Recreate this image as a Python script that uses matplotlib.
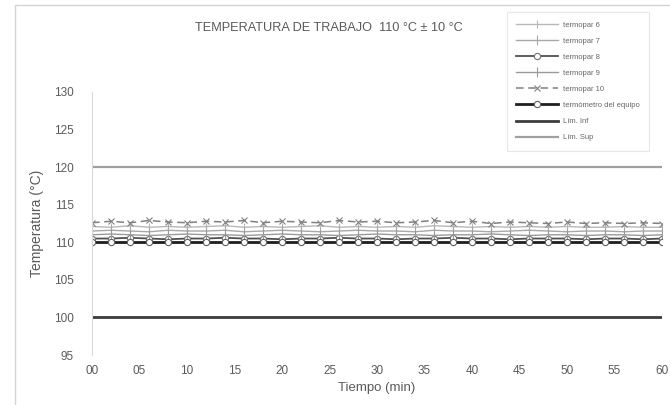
import matplotlib
matplotlib.use("Agg")
import matplotlib.pyplot as plt
from matplotlib.patches import Rectangle

plt.rcParams['font.family'] = ['Liberation Sans', 'DejaVu Sans']

# Tiempo de muestreo (min)
tiempo = list(range(0, 61, 2))

termopar_6 = [112.1, 112.0, 112.2, 112.0, 112.1, 112.0, 112.1, 112.2, 112.0, 112.1,
              112.0, 112.1, 112.2, 112.0, 112.1, 112.0, 112.1, 112.0, 112.2, 112.1,
              112.0, 112.1, 112.0, 112.1, 112.0, 112.1, 112.0, 112.0, 112.1, 112.0, 112.0]
termopar_7 = [111.5, 111.6, 111.5, 111.4, 111.6, 111.5, 111.5, 111.6, 111.4, 111.5,
              111.6, 111.5, 111.4, 111.5, 111.6, 111.5, 111.5, 111.4, 111.6, 111.5,
              111.5, 111.4, 111.5, 111.6, 111.5, 111.4, 111.5, 111.5, 111.4, 111.5, 111.5]
termopar_8 = [110.5, 110.5, 110.6, 110.5, 110.4, 110.5, 110.5, 110.6, 110.5, 110.5,
              110.4, 110.5, 110.5, 110.6, 110.5, 110.5, 110.4, 110.5, 110.5, 110.6,
              110.5, 110.5, 110.4, 110.5, 110.5, 110.5, 110.4, 110.5, 110.5, 110.4, 110.5]
termopar_9 = [111.0, 111.1, 111.0, 110.9, 111.0, 111.1, 111.0, 111.0, 110.9, 111.0,
              111.1, 111.0, 111.0, 110.9, 111.0, 111.1, 111.0, 111.0, 110.9, 111.0,
              111.0, 111.1, 111.0, 110.9, 111.0, 111.0, 110.9, 111.0, 111.0, 110.9, 111.0]
termopar_10 = [112.6, 112.8, 112.6, 112.9, 112.7, 112.6, 112.8, 112.7, 112.9, 112.6,
               112.8, 112.7, 112.6, 112.9, 112.7, 112.8, 112.6, 112.7, 112.9, 112.6,
               112.8, 112.5, 112.7, 112.6, 112.5, 112.7, 112.5, 112.6, 112.5, 112.6, 112.5]
termometro_equipo = [110.0] * 31
lim_inf = [100.0] * 31
lim_sup = [120.0] * 31

x_ticks = list(range(0, 61, 5))
x_tick_labels = [f"{v:02d}" for v in x_ticks]
y_ticks = list(range(95, 131, 5))
y_tick_labels = ["95", "100", "105", "110", "115", "120", "125", "130"]

TXT = '#5a5a5a'

fig = plt.figure(figsize=(6.7, 4.05), dpi=100)
fig.patch.set_facecolor('white')

# marco exterior del gráfico
fig.add_artist(Rectangle((15 / 670, -0.02), 1.1, (405 - 5) / 405 + 0.02,
                         transform=fig.transFigure, fill=False,
                         edgecolor='#d4d4d4', lw=1.0))

ax = fig.add_axes([92 / 670, 1 - 355 / 405, (662 - 92) / 670, (355 - 92) / 405])
ax.set_facecolor('none')

ax.plot(tiempo, termopar_6, color='#b8b8b8', lw=1.0, marker='|', ms=6, mew=0.8,
        label='termopar 6')
ax.plot(tiempo, termopar_7, color='#a8a8a8', lw=1.0, marker='|', ms=7, mew=0.8,
        label='termopar 7')
ax.plot(tiempo, termopar_8, color='#505050', lw=1.3, marker='o', ms=4.5,
        mfc='white', mec='#707070', mew=0.8, label='termopar 8')
ax.plot(tiempo, termopar_9, color='#9a9a9a', lw=1.0, marker='|', ms=7, mew=0.8,
        label='termopar 9')
ax.plot(tiempo, termopar_10, color='#808080', lw=1.1, ls=(0, (5, 3)), marker='x',
        ms=4, mew=0.8, label='termopar 10')
ax.plot(tiempo, termometro_equipo, color='#1e1e1e', lw=2.0, marker='o', ms=4.5,
        mfc='white', mec='#606060', mew=0.8, label='termómetro del equipo')
ax.plot(tiempo, lim_inf, color='#3c3c3c', lw=2.0, label='Lím. Inf')
ax.plot(tiempo, lim_sup, color='#a0a0a0', lw=1.6, label='Lím. Sup')

ax.set_xlim(0, 60)
ax.set_ylim(95, 130)
ax.set_xticks(x_ticks)
ax.set_xticklabels(x_tick_labels)
ax.set_yticks(y_ticks)
ax.set_yticklabels(y_tick_labels)
ax.tick_params(axis='both', length=0, labelsize=8.5, colors=TXT)
ax.tick_params(axis='y', pad=13)
ax.tick_params(axis='x', pad=7)

for side in ('top', 'right', 'bottom'):
    ax.spines[side].set_visible(False)
ax.spines['left'].set_color('#d8d8d8')
ax.spines['left'].set_linewidth(0.8)

ax.set_xlabel('Tiempo (min)', fontsize=9.5, color=TXT, labelpad=4)
ax.set_ylabel('Temperatura (°C)', fontsize=10, color=TXT, labelpad=7)

fig.text(329 / 670, 1 - 28 / 405, 'TEMPERATURA DE TRABAJO  110 °C ± 10 °C',
         ha='center', va='center', fontsize=9.2, color=TXT)

leg = ax.legend(loc='upper left', bbox_to_anchor=(507 / 670, 1 - 12 / 405),
                bbox_transform=fig.transFigure, fontsize=5.5, frameon=True,
                handlelength=5.5, labelspacing=1.15, borderpad=1.2,
                handletextpad=0.6, fancybox=False, borderaxespad=0)
leg.get_frame().set_edgecolor('#e2e2e2')
leg.get_frame().set_linewidth(0.8)
for txt in leg.get_texts():
    txt.set_color('#666666')

fig.savefig('out.png', dpi=100)
